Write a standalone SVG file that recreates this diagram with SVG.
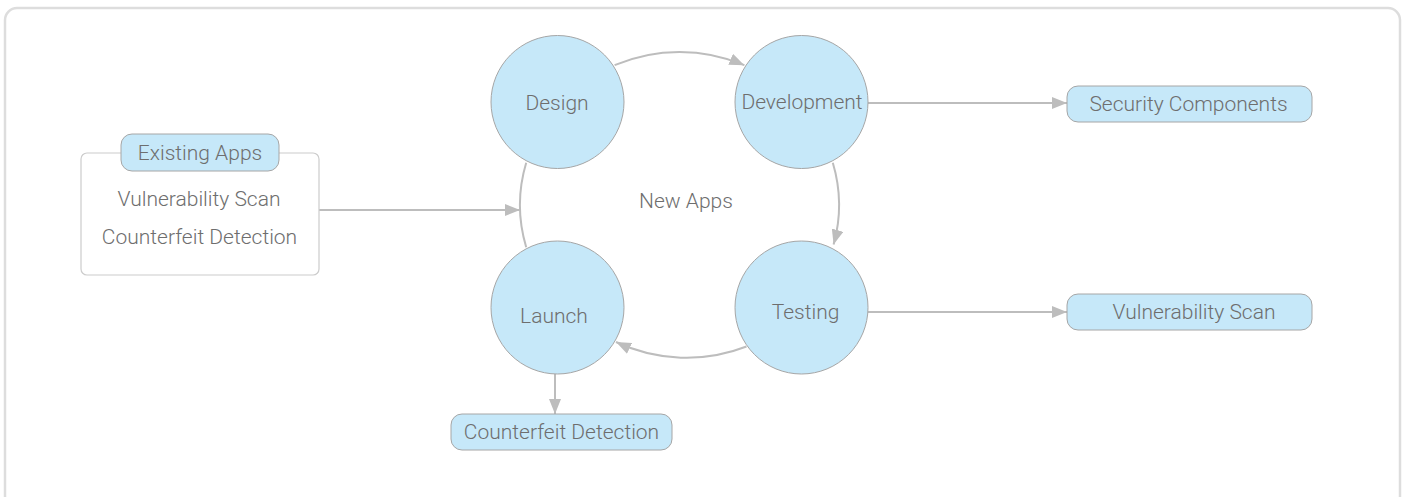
<svg xmlns="http://www.w3.org/2000/svg" width="1407" height="497" viewBox="0 0 1407 497">
  <style>
    .frame { fill: #ffffff; stroke: #dddddd; stroke-width: 2.5; }
    .stage { fill: #c6e8f9; stroke: #a6a6a6; stroke-width: 1; }
    .pill { fill: #c6e8f9; stroke: #a6a6a6; stroke-width: 1; }
    .group { fill: #ffffff; stroke: #cccccc; stroke-width: 1.2; }
    .link { fill: none; stroke: #bdbdbd; stroke-width: 2; }
    text { font-family: Roboto, "Liberation Sans", sans-serif; font-weight: 300; font-size: 21px; fill: #6e6e6e; text-anchor: middle; }
  </style>
  <defs>
    <marker id="arrow" markerUnits="userSpaceOnUse" markerWidth="16" markerHeight="12" refX="15" refY="6" orient="auto">
      <path d="M0,0 L15,6 L0,12 z" fill="#bdbdbd"/>
    </marker>
  </defs>

  <rect class="frame" x="5" y="8" width="1395" height="500" rx="12"/>

  <g id="connectors">
    <!-- cycle arcs around the new-app lifecycle -->
    <path class="link" d="M614.6,65.2 A159.5,153 0 0 1 744.4,65.2" marker-end="url(#arrow)"/>
    <path class="link" d="M832.8,162.8 A159.5,153 0 0 1 833.6,244.6" marker-end="url(#arrow)"/>
    <path class="link" d="M746.5,346.5 A159.5,153 0 0 1 616,342" marker-end="url(#arrow)"/>
    <path class="link" d="M526.2,247.2 A159.5,153 0 0 1 526.2,162.8"/>
    <!-- outgoing and incoming straight links -->
    <path class="link" d="M319,210 L520,210" marker-end="url(#arrow)"/>
    <path class="link" d="M868,103 L1067,103" marker-end="url(#arrow)"/>
    <path class="link" d="M868,312 L1067,312" marker-end="url(#arrow)"/>
    <path class="link" d="M555,374 L555,414" marker-end="url(#arrow)"/>
  </g>

  <g id="existing-apps">
    <rect class="group" x="81" y="153" width="238" height="122" rx="6"/>
    <rect class="pill" x="121" y="134" width="158" height="37" rx="11"/>
    <text x="200" y="160">Existing Apps</text>
    <text x="199" y="206">Vulnerability Scan</text>
    <text x="199.5" y="244">Counterfeit Detection</text>
  </g>

  <g id="new-apps">
    <text x="686" y="208">New Apps</text>
  </g>

  <g id="design">
    <circle class="stage" cx="557.5" cy="102" r="66.5"/>
    <text x="557" y="110">Design</text>
  </g>

  <g id="development">
    <circle class="stage" cx="801.5" cy="102" r="66.5"/>
    <text x="802" y="109">Development</text>
  </g>

  <g id="launch">
    <circle class="stage" cx="557.5" cy="307.5" r="66.5"/>
    <text x="554" y="323">Launch</text>
  </g>

  <g id="testing">
    <circle class="stage" cx="801.5" cy="307.5" r="66.5"/>
    <text x="805.5" y="319">Testing</text>
  </g>

  <g id="security-components">
    <rect class="pill" x="1067" y="86" width="245" height="36" rx="11"/>
    <text x="1188.5" y="111">Security Components</text>
  </g>

  <g id="vulnerability-scan">
    <rect class="pill" x="1067" y="294" width="245" height="36" rx="11"/>
    <text x="1194" y="318.5">Vulnerability Scan</text>
  </g>

  <g id="counterfeit-detection">
    <rect class="pill" x="451" y="414" width="221" height="36" rx="11"/>
    <text x="561.5" y="438.5">Counterfeit Detection</text>
  </g>
</svg>
